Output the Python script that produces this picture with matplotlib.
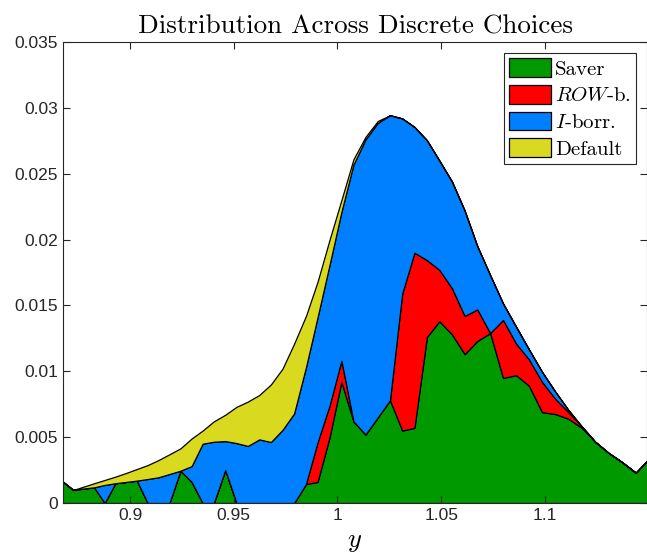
import numpy as np
import matplotlib
matplotlib.use("Agg")
import matplotlib.pyplot as plt

plt.rcParams['mathtext.fontset'] = 'cm'
plt.rcParams['axes.formatter.use_mathtext'] = True

# income grid (log-spaced), visible part
y_grid = [0.8676, 0.8726, 0.8776, 0.8827, 0.8878, 0.8929, 0.8981, 0.9033, 0.9085, 0.9137,
          0.9190, 0.9243, 0.9297, 0.9350, 0.9404, 0.9459, 0.9513, 0.9568, 0.9623, 0.9679,
          0.9735, 0.9791, 0.9848, 0.9904, 0.9962, 1.0019, 1.0077, 1.0135, 1.0194, 1.0253,
          1.0312, 1.0371, 1.0431, 1.0491, 1.0552, 1.0613, 1.0674, 1.0736, 1.0798, 1.0861,
          1.0923, 1.0986, 1.1050, 1.1113, 1.1178, 1.1242, 1.1307, 1.1372, 1.1438, 1.1504]

saver = [0.00162, 0.00099, 0.0011, 0.00119, 0.0, 0.0015, 0.0016, 0.0017, 0.0, 0.0,
         0.0, 0.00245, 0.0016, 0.0, 0.0, 0.0025, 0.0, 0.0, 0.0, 0.0,
         0.0, 0.0, 0.00144, 0.0016, 0.0050, 0.0092, 0.0062, 0.0052, 0.0065, 0.0078,
         0.0055, 0.0057, 0.0126, 0.0138, 0.0128, 0.0113, 0.0123, 0.0129, 0.0095, 0.0097,
         0.0089, 0.0069, 0.00675, 0.0064, 0.0057, 0.00465, 0.0038, 0.0031, 0.0023, 0.0034]

row_b = [0, 0, 0, 0, 0, 0, 0, 0, 0, 0,
         0, 0, 0, 0, 0, 0, 0, 0, 0, 0,
         0, 0, 0, 0.0030, 0.0024, 0.0016, 0, 0, 0, 0,
         0.0104, 0.0133, 0.00584, 0.0039, 0.0035, 0.0029, 0.0024, 0, 0.0044, 0.0024,
         0.0020, 0.0023, 0.00115, 0.0005, 0.0001, 0, 0, 0, 0, 0]

i_borr = [0, 0, 0, 0, 0.00137, 0, 0, 0, 0.00182, 0.00195,
          0.0022, 0, 0.0012, 0.0045, 0.00465, 0.0022, 0.00455, 0.00433, 0.00483, 0.00463,
          0.00555, 0.0068, 0.00886, 0.0095, 0.0107, 0.0113, 0.0195, 0.0224, 0.02235, 0.02164,
          0.0133, 0.00955, 0.0091, 0.0083, 0.0081, 0.0080, 0.0048, 0.0044, 0.00125, 0.00128,
          0.00076, 0.00076, 0.00055, 0.00016, 0, 0, 0, 0, 0, 0]

default = [0, 0, 0.00014, 0.00031, 0.00038, 0.0005, 0.00068, 0.00088, 0.00106, 0.00131,
           0.0015, 0.0017, 0.0021, 0.0010, 0.00155, 0.0020, 0.00275, 0.00337, 0.00337, 0.00437,
           0.00465, 0.0053, 0.0039, 0.0027, 0.0019, 0.0009, 0.0004, 0.0002, 0.00015, 0,
           0, 0, 0, 0, 0, 0, 0, 0, 0, 0,
           0, 0, 0, 0, 0, 0, 0, 0, 0, 0]

labels = ['Saver', '$ROW$-b.', '$I$-borr.', 'Default']
colors = ['#009900', '#FF0000', '#0080FF', '#D9D91F']

fig = plt.figure(figsize=(6.47, 5.58), dpi=100)
ax = fig.add_axes([63/647, 1 - 503/558, 584/647, 461/558])

ax.stackplot(y_grid, saver, row_b, i_borr, default, labels=labels, colors=colors,
             edgecolor='k', linewidth=0.9)

ax.set_xlim(0.8677, 1.1492)
ax.set_ylim(0, 0.035)
ax.set_xticks([0.9, 0.95, 1.0, 1.05, 1.1])
ax.set_xticklabels(['0.9', '0.95', '1', '1.05', '1.1'])
ax.set_yticks(np.arange(0, 0.0351, 0.005))
ax.set_yticklabels(['0', '0.005', '0.01', '0.015', '0.02', '0.025', '0.03', '0.035'])
ax.tick_params(direction='in', length=5, width=0.8, color='#262626',
               top=True, right=True, labelsize=12.5, labelcolor='#262626')
for lab in ax.get_xticklabels() + ax.get_yticklabels():
    lab.set_family('Liberation Sans')
for sp in ax.spines.values():
    sp.set_color('#262626')
    sp.set_linewidth(0.8)

ax.set_xlabel('$y$', fontsize=19, labelpad=4)
ax.set_title('Distribution Across Discrete Choices', fontsize=19.5, family='cmr10', pad=6)

leg = ax.legend(loc='upper right', bbox_to_anchor=(0.981, 0.976), fancybox=False,
                edgecolor='#262626', framealpha=1, prop={'family': 'cmr10', 'size': 15},
                handlelength=2.0, handleheight=1.0, handletextpad=0.2,
                labelspacing=0.3, borderpad=0.25, borderaxespad=0)
leg.get_frame().set_linewidth(0.8)

fig.savefig('out.png', dpi=100)
